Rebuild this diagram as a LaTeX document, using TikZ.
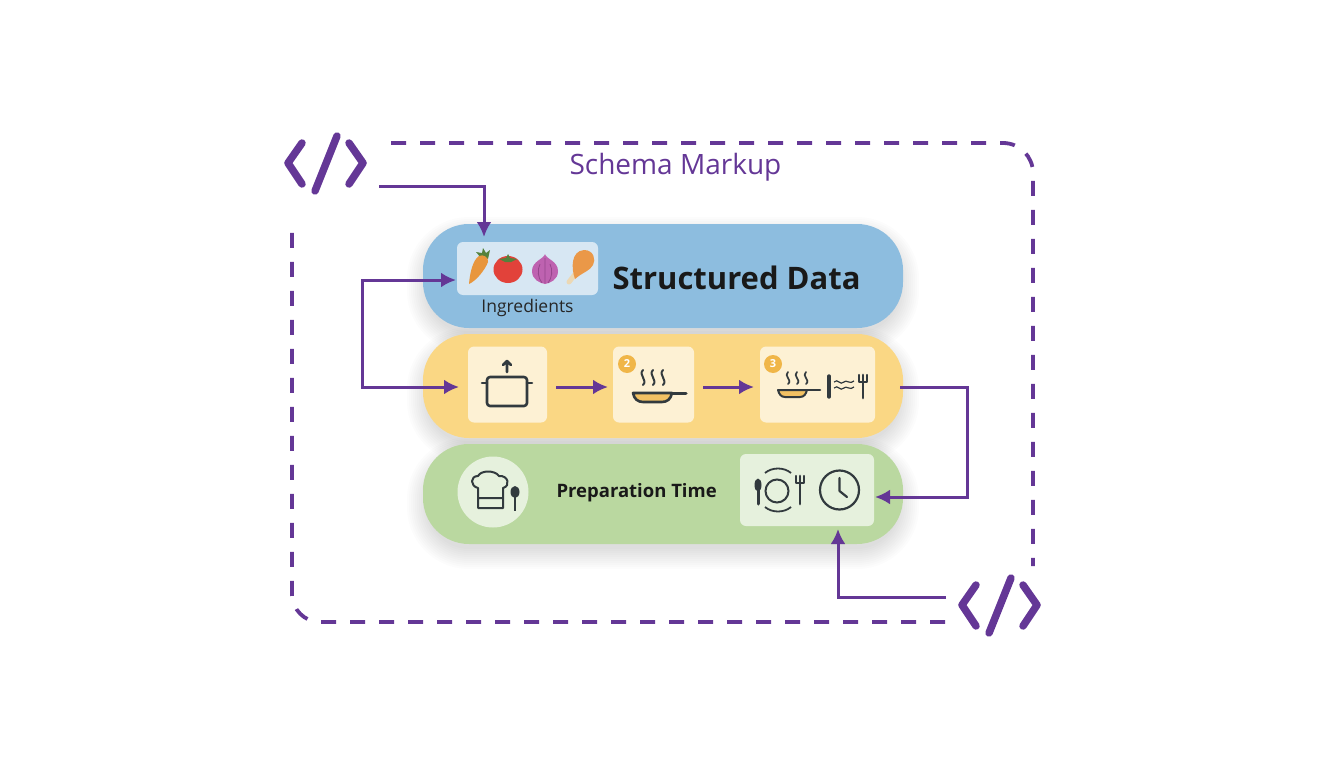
\documentclass[tikz,border=0pt]{standalone}
\usepackage{fontspec}
\setmainfont{Open Sans}
\usetikzlibrary{arrows.meta, calc, positioning}
\definecolor{schemapurple}{RGB}{100,55,150}
\definecolor{iconink}{RGB}{50,58,62}
\definecolor{databand}{RGB}{141,189,223}
\definecolor{stepband}{RGB}{250,215,132}
\definecolor{timeband}{RGB}{186,216,160}
\definecolor{badgeorange}{RGB}{240,182,72}
\definecolor{carrotorange}{RGB}{232,150,60}
\definecolor{leafgreen}{RGB}{84,130,60}
\definecolor{tomatored}{RGB}{226,66,58}
\definecolor{onionpurple}{RGB}{190,98,176}
\definecolor{onionline}{RGB}{150,70,140}
\definecolor{bonecream}{RGB}{236,216,180}
\definecolor{meatorange}{RGB}{234,152,72}
\newcommand{\fsize}[1]{\fontsize{#1}{#1}\selectfont}
% ombre douce sous les bandes
\newcommand{\softshadow}[4]{
  \foreach \d in {16,14,...,-4}{
    \fill [black, opacity=0.011, rounded corners=46+\d] (#1-\d,#2+9-\d) rectangle (#3+\d,#4+9+\d);
  }
}
% le symbole </>
\newcommand{\codeicon}[2]{
  \draw [codeline] (#1-24,#2-20) -- (#1-38,#2) -- (#1-24,#2+21);
  \draw [codeline] (#1+11,#2-27) -- (#1-11,#2+28);
  \draw [codeline] (#1+23,#2-20) -- (#1+37,#2) -- (#1+23,#2+21);
}
\newcommand{\steam}[4]{
  \draw [iconline, line width=#4] (#1,#2) .. controls (#1-5,#2+#3*0.33) and (#1+5,#2+#3*0.66) .. (#1,#2+#3);
}
\newcommand{\cutfork}[3]{
  \draw [iconline, line width=2.2] (#1-4,#2) -- (#1-4,#2+7) -- (#1+4,#2+7) -- (#1+4,#2);
  \draw [iconline, line width=2.8] (#1,#2) -- (#1,#3);
}
\tikzset{
  band/.style={rounded corners=46, minimum width=480, minimum height=#1, inner sep=0},
  tile/.style={rounded corners=6, inner sep=0},
  codeline/.style={schemapurple, line width=7.5, line cap=round, line join=round},
  flow/.style={schemapurple, line width=3, -{Latex[length=15,width=15]}},
  iconline/.style={iconink, line width=2.6, line cap=round, line join=round},
  badge/.style={circle, fill=badgeorange, text=white, minimum size=18, inner sep=0, font=\fsize{11}\bfseries},
}
\begin{document}
\begin{tikzpicture}[x=1pt, y=-1pt]
  \useasboundingbox (0,0) rectangle (1344,768);

  %le cadre en pointilles
  \draw [schemapurple, line width=3.8, dash pattern=on 15 off 14, rounded corners=30] (391,143) -- (1033,143) -- (1033,566);
  \draw [schemapurple, line width=3.8, dash pattern=on 15 off 14, rounded corners=28] (945,622) -- (292,622) -- (292,222);
  \node [schemapurple, font=\fsize{28}] (title) at (675.5,167.5) {Schema Markup};

  %les bandes
  \softshadow{423}{224}{903}{328}
  \softshadow{423}{334}{903}{438}
  \softshadow{423}{444}{903}{544}
  \node [band=104, fill=databand] (data) at (663,276) {};
  \node [band=104, fill=stepband] (steps) at (663,386) {};
  \node [band=100, fill=timeband] (time) at (663,494) {};

  %bande bleue
  \node [tile, fill=white, fill opacity=0.65, minimum width=141, minimum height=53] (ingredbox) at (527.5,268.5) {};
  \node [text=black!85, font=\fsize{17.5}, below=0.5pt of ingredbox.south] (ingred) {Ingredients};
  \node [text=black!90, font=\fsize{31}\bfseries, anchor=west] (structured) at (609,277.5) {Structured Data};
  %carotte
  \fill [leafgreen] (481,258) -- (476,252) -- (482,253) -- (483,248) -- (486,253) -- (490,250) -- (488,259) -- cycle;
  \fill [carrotorange] (469,284) .. controls (470,272) and (473,260) .. (479,256) .. controls (483,254) and (489,257) .. (488,262) .. controls (485,270) and (476,281) .. (469,284) -- cycle;
  %tomate
  \fill [tomatored] (508,269.5) ellipse [x radius=14.5, y radius=13.5];
  \fill [leafgreen] (499,259) -- (506,258) -- (508,254) -- (510,258) -- (517,259) -- (511,262) -- (505,262) -- cycle;
  %oignon
  \fill [onionpurple] (545,254) .. controls (546,259) and (558,261) .. (558,271) .. controls (558,280) and (550,283) .. (545,284) .. controls (540,283) and (532,280) .. (532,271) .. controls (532,261) and (544,259) .. (545,254) -- cycle;
  \draw [onionline, line width=0.8] (545,258) -- (545,283) (540,264) .. controls (537,270) and (538,278) .. (542,283) (550,264) .. controls (553,270) and (552,278) .. (548,283);
  %pilon
  \draw [bonecream, line width=5, line cap=round] (576,273) -- (569,282);
  \fill [meatorange] (584,250) .. controls (594,250) and (596,260) .. (593,265) .. controls (590,271) and (583,272) .. (575,279) .. controls (571,268) and (571,251) .. (584,250) -- cycle;

  %bande jaune
  \node [tile, fill=white, fill opacity=0.65, minimum width=79, minimum height=76] (potbox) at (507.5,384.5) {};
  \node [tile, fill=white, fill opacity=0.65, minimum width=81, minimum height=76] (panbox) at (653.5,384.5) {};
  \node [tile, fill=white, fill opacity=0.65, minimum width=115, minimum height=76] (servebox) at (817.5,384.5) {};
  \node [badge] (badgetwo) at (627,364) {2};
  \node [badge] (badgethree) at (773,364) {3};
  %la casserole
  \draw [iconline, rounded corners=3] (487,377) rectangle (527,406);
  \draw [iconline] (482,383) -- (487,383) (527,383) -- (532,383);
  \draw [iconline] (507,372) -- (507,361) (503,365) -- (507,361) -- (511,365);
  %la poele
  \foreach \sx in {643,653,663}{\steam{\sx}{370}{15}{2}}
  \draw [iconline, fill=badgeorange!85!white] (633,393) -- (672,393) .. controls (671,399) and (667,402) .. (662,402) -- (643,402) .. controls (638,402) and (634,399) .. (633,393) -- cycle;
  \draw [iconline, line width=3] (672,393) -- (686,393);
  %la poele et les couverts
  \foreach \sx in {788,797,806}{\steam{\sx}{372}{12}{1.7}}
  \draw [iconline, line width=2, fill=badgeorange!85!white] (778,390) -- (807,390) .. controls (806,394) and (804,397) .. (800,397) -- (785,397) .. controls (781,397) and (779,394) .. (778,390) -- cycle;
  \draw [iconline] (807,390) -- (820,390);
  \draw [iconline, line width=3.4] (829,376) -- (829,397);
  \foreach \wy in {382,388}{
    \draw [iconink, line width=1.2] (834,\wy) .. controls (838,\wy-4) and (840,\wy+4) .. (844,\wy) .. controls (846,\wy-3) and (850,\wy+3) .. (854,\wy-1);
  }
  \cutfork{863}{375}{398}

  %bande verte
  \node [circle, fill=white, fill opacity=0.65, minimum size=71, inner sep=0] (chefdisc) at (493,492) {};
  \node [text=black!90, font=\fsize{18.5}\bfseries, anchor=west] (preptime) at (553,492.5) {Preparation Time};
  \node [tile, fill=white, fill opacity=0.65, minimum width=134, minimum height=72] (prepbox) at (807,490) {};
  %la toque
  \draw [iconink, line width=2, line join=round] (478,508) -- (478,488) .. controls (470,486) and (470,476) .. (478,476) .. controls (481,470) and (495,470) .. (499,476) .. controls (508,475) and (511,486) .. (503,488) -- (503,508) -- cycle (478,498) -- (503,498);
  \fill [iconink] (515,492) ellipse [x radius=4.5, y radius=6];
  \draw [iconink, line width=2.8] (515,496) -- (515,511);
  %assiette et couverts
  \draw [iconink, line width=2] (777,491) circle [radius=11.5];
  \draw [iconink, line width=1.8] (765,473) .. controls (772,467) and (784,467) .. (791,473);
  \draw [iconink, line width=1.8] (765,507) .. controls (772,513) and (784,513) .. (791,507);
  \fill [iconink] (758,485) ellipse [x radius=3.5, y radius=6.5];
  \draw [iconink, line width=3, line cap=round] (758,488) -- (758,504);
  \cutfork{800}{476}{504}
  %horloge
  \draw [iconink, line width=2.2] (839.5,490) circle [radius=19.5];
  \draw [iconline, line width=2.2] (839.5,478) -- (839.5,491) -- (847,497);

  %les symboles
  \codeicon{326}{163}
  \codeicon{1000}{605}

  %les fleches
  \coordinate (codetopout) at (379,186);
  \coordinate (ingredtop) at (484,237);
  \coordinate (codebotout) at (946,597);
  \coordinate (prepbottom) at (838,529);
  \coordinate (loopturn) at (362,280);
  \coordinate (stepsout) at (900,387);
  \coordinate (timein) at (967,497);
  \coordinate (potout) at (556,387);
  \coordinate (panout) at (703,387);
  \coordinate (ingredin) at (456,280);
  \coordinate (potin) at (459,387);
  \coordinate (panin) at (608,387);
  \coordinate (servein) at (754,387);
  \coordinate (prepin) at (875,497);
  \draw [flow] (codetopout) -| (ingredtop);
  \draw [flow, {Latex[length=15,width=15]}-{Latex[length=15,width=15]}] (ingredin) -- (loopturn) |- (potin);
  \draw [flow] (potout) -- (panin);
  \draw [flow] (panout) -- (servein);
  \draw [flow] (stepsout) -| (timein) -- (prepin);
  \draw [flow] (codebotout) -| (prepbottom);
\end{tikzpicture}
\end{document}
